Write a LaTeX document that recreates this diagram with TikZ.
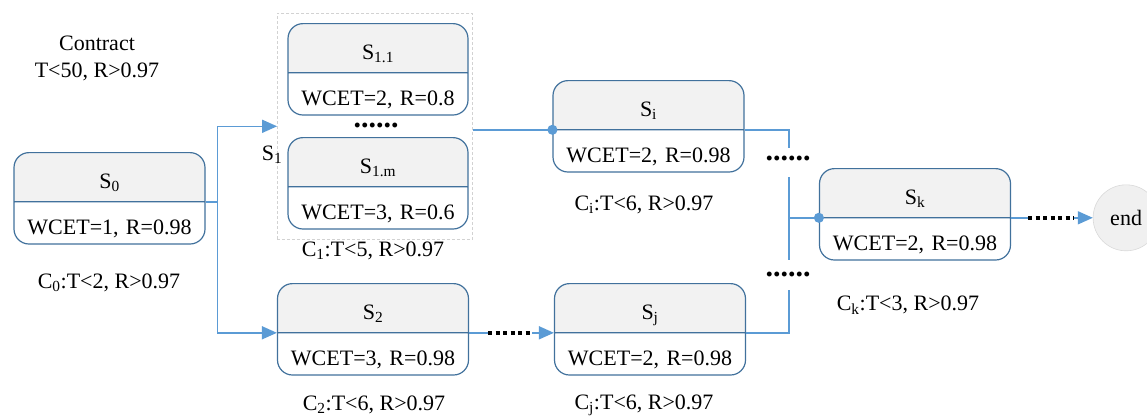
\documentclass[tikz,border=0pt]{standalone}
\usepackage{fontspec}
\setmainfont{Liberation Serif}
\usetikzlibrary{shapes.multipart,arrows.meta,fit,calc}

\definecolor{boxline}{RGB}{65,113,156}
\definecolor{flowline}{RGB}{91,155,213}
\definecolor{headfill}{RGB}{242,242,242}

% struts that fix the height of the two parts of a task box
\newcommand{\headstrut}{\rule[-13pt]{0pt}{48pt}}
\newcommand{\bodystrut}{\rule[-9pt]{0pt}{41pt}}

\tikzset{
	task/.style = {rectangle split, rectangle split parts=2,
		draw=boxline, line width=1.2pt, rounded corners=15pt,
		rectangle split part fill={headfill,white},
		inner xsep=0pt, inner ysep=0pt, text width=191pt, align=center,
		anchor=north},
	subtask/.style = {task, text width=180pt},
	group/.style = {draw=gray!35, dash pattern=on 3pt off 2pt,
		line width=0.6pt, inner xsep=7pt, inner ysep=10pt},
	flow/.style = {draw=flowline, line width=1.6pt},
	tip/.style = {-{Triangle[length=15pt,width=13pt]}},
	joint/.style = {-{Circle[length=10pt]}, shorten >=-5pt},
	dots/.style = {draw=black, line width=4pt, dash pattern=on 4pt off 3.5pt},
	ellip/.style = {font=\fontsize{30}{30}\bfseries\selectfont, anchor=base,
		inner sep=0pt, text height=5pt, text depth=0pt},
	cond/.style = {inner sep=0pt},
	finish/.style = {circle, fill=gray!12, draw=gray!30, line width=0.6pt,
		minimum size=66pt, inner sep=0pt}
}

\begin{document}
\begin{tikzpicture}[x=1pt, y=-1pt, font=\fontsize{22}{27}\selectfont]
	\useasboundingbox (0,0) rectangle (1147,416);

	\node[cond, align=center] (contract) at (97,58) {Contract\\T<50, R>0.97};

	\node[task] (S0) at (109.5,152)
		{\headstrut S\textsubscript{0}\nodepart{two}\bodystrut WCET=1, R=0.98};
	\node[subtask] (S11) at (378,23)
		{\headstrut S\textsubscript{1.1}\nodepart{two}\bodystrut WCET=2, R=0.8};
	\node[subtask] (S1m) at (378,137)
		{\headstrut S\textsubscript{1.m}\nodepart{two}\bodystrut WCET=3, R=0.6};
	\node[group, fit=(S11)(S1m), xshift=-3pt] (S1) {};
	\node[ellip] (gapS1) at (376,127) {......};
	\node[cond] (S1label) at (272,155) {S\textsubscript{1}};
	\node[task] (S2) at (373,283)
		{\headstrut S\textsubscript{2}\nodepart{two}\bodystrut WCET=3, R=0.98};
	\node[task] (Si) at (648.5,80)
		{\headstrut S\textsubscript{i}\nodepart{two}\bodystrut WCET=2, R=0.98};
	\node[task] (Sj) at (650,283)
		{\headstrut S\textsubscript{j}\nodepart{two}\bodystrut WCET=2, R=0.98};
	\node[task] (Sk) at (915,168)
		{\headstrut S\textsubscript{k}\nodepart{two}\bodystrut WCET=2, R=0.98};
	\node[finish] (fin) at ($(Sk.text split east)+(115,0)$) {end};

	% contracts of the services
	\node[cond] (C0) at (109,283) {C\textsubscript{0}:T<2, R>0.97};
	\node[cond] (C1) at (373,251) {C\textsubscript{1}:T<5, R>0.97};
	\node[cond] (Ci) at (644,205) {C\textsubscript{i}:T<6, R>0.97};
	\node[cond] (C2) at (374,405) {C\textsubscript{2}:T<6, R>0.97};
	\node[cond] (Cj) at (644,405) {C\textsubscript{j}:T<6, R>0.97};
	\node[cond] (Ck) at (908,305) {C\textsubscript{k}:T<3, R>0.97};

	\node[ellip] (gapUp) at (788,160) {......};
	\node[ellip] (gapDn) at (788,276) {......};

	% connectors
	\coordinate (fork) at ($(S0.text split east)+(12,0)$);
	\draw[flow] (S0.text split east) -- (fork);
	\draw[flow,tip] (fork) |- (S1.west);
	\draw[flow,tip] (fork) |- (S2.text split west);
	\draw[flow,joint] (S1.east |- Si.text split west) -- (Si.text split west);

	\draw[flow] (S2.text split east) -- ++(19,0) coordinate (d2);
	\draw[dots] (d2) -- ++(44,0) coordinate (a2);
	\draw[flow,tip] (a2) -- (Sj.text split west);

	\coordinate (mergeUp) at (789,148);
	\coordinate (mergeDn) at (789,290);
	\coordinate (busTop) at (789,177);
	\coordinate (busBot) at (789,260);
	\draw[flow] (Si.text split east) -| (mergeUp);
	\draw[flow] (Sj.text split east) -| (mergeDn);
	\draw[flow] (busTop) -- (busBot);
	\draw[flow,joint] (busTop |- Sk.text split west) -- (Sk.text split west);

	\draw[flow] (Sk.text split east) -- ++(17,0) coordinate (dk);
	\draw[dots] (dk) -- ++(46,0) coordinate (ak);
	\draw[flow,tip] (ak) -- (fin.west);
\end{tikzpicture}
\end{document}
